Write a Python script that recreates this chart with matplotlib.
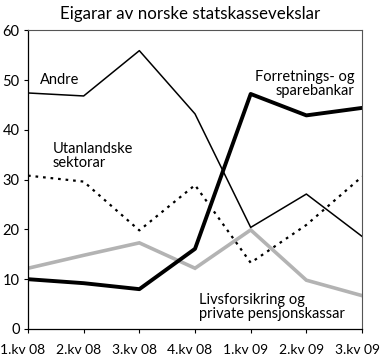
import matplotlib
matplotlib.use("Agg")
import matplotlib.pyplot as plt
import matplotlib.transforms as mtransforms

plt.rcParams['font.family'] = ['Lato', 'DejaVu Sans']

categories = ["1.kv 08", "2.kv 08", "3.kv 08", "4.kv 08", "1.kv 09", "2.kv 09", "3.kv 09"]
andre = [47.4, 46.8, 55.9, 43.2, 20.4, 27.1, 18.6]
forretning = [10.0, 9.2, 8.0, 16.1, 47.2, 42.9, 44.4]
utanlandske = [30.8, 29.6, 19.8, 28.9, 13.3, 20.9, 30.6]
livs = [12.2, 14.8, 17.3, 12.2, 19.9, 9.8, 6.7]
yticks = [0, 10, 20, 30, 40, 50, 60]

fig = plt.figure(figsize=(3.8, 3.63), dpi=100)
ax = fig.add_axes([0.0737, 0.0937, 0.879, 0.823])
x = list(range(len(categories)))

ax.plot(x, livs, color='#b3b3b3', lw=2.6, solid_joinstyle='miter')
ax.plot(x, utanlandske, color='black', lw=1.6, linestyle=(0, (1.2, 2.2)))
ax.plot(x, andre, color='black', lw=1.1)
ax.plot(x, forretning, color='black', lw=2.8)

ax.set_xlim(0, 6)
ax.set_ylim(0, 60)
ax.set_yticks(yticks)
ax.set_xticks(x)
ax.set_xticklabels(categories)
ax.tick_params(axis='both', direction='out', length=3, width=0.8, labelsize=10.5, colors='black')
ax.tick_params(axis='x', pad=8, labelsize=10)
ax.tick_params(axis='y', pad=3)
offset = mtransforms.ScaledTranslation(-5 / 100, 0, fig.dpi_scale_trans)
for lab in ax.get_xticklabels():
    lab.set_transform(lab.get_transform() + offset)
for s in ['left', 'bottom']:
    ax.spines[s].set_color('black')
    ax.spines[s].set_linewidth(0.9)
for s in ['top', 'right']:
    ax.spines[s].set_color('#555555')
    ax.spines[s].set_linewidth(0.8)

fig.text(0.5, 0.962, "Eigarar av norske statskassevekslar", ha='center', va='center', fontsize=12.2)

ax.text(0.22, 50.0, "Andre", fontsize=10.5, ha='left', va='center')
ax.text(5.87, 49.3, "Forretnings- og\nsparebankar", fontsize=10.5, ha='right', va='center', linespacing=1.0, multialignment='right')
ax.text(0.45, 34.7, "Utanlandske\nsektorar", fontsize=10.5, ha='left', va='center', linespacing=1.0)
ax.text(3.07, 4.5, "Livsforsikring og\nprivate pensjonskassar", fontsize=10.5, ha='left', va='center', linespacing=1.0)

fig.savefig("out.png", dpi=100)
